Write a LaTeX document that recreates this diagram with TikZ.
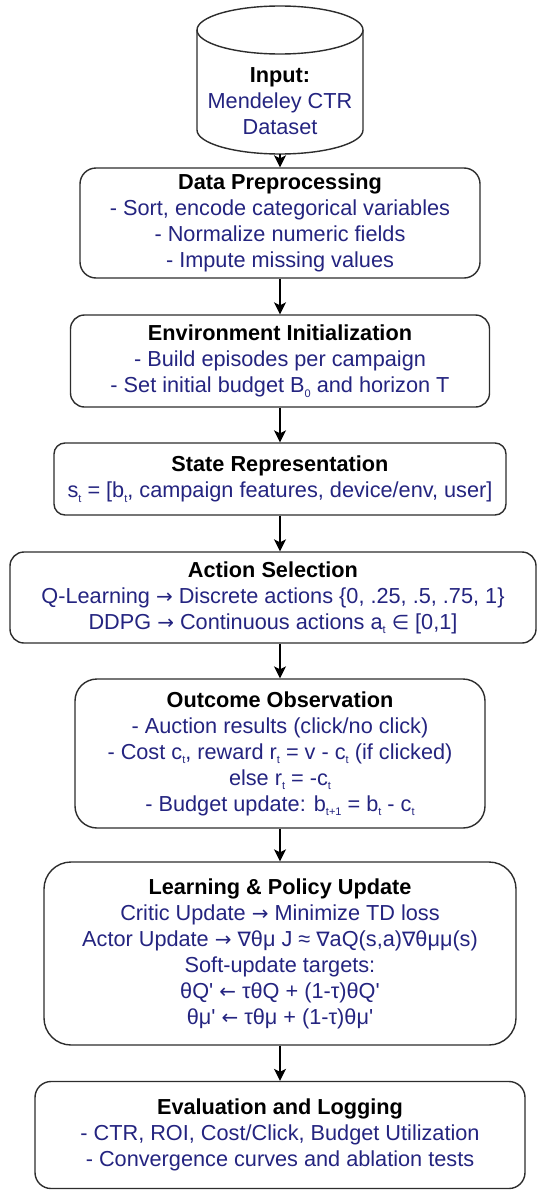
\documentclass[tikz,border=0pt]{standalone}
\usepackage{fontspec}
\setmainfont{Liberation Sans}[Ligatures=TeXOff]
\newfontfamily\symf{DejaVu Sans}[Scale=0.92]
\usetikzlibrary{arrows.meta}
\definecolor{navy}{RGB}{36,36,128}
\definecolor{edge}{RGB}{45,45,45}
% small lowered index used in the formulas
\newcommand\sbs[1]{\raisebox{-0.4ex}{\fontsize{11}{11}\selectfont #1}}
\newcommand\ttl[1]{{\color{black}\bfseries #1}}
\newcommand\ra{{\symf →}}
\newcommand\la{{\symf ←}}
\begin{document}
\begin{tikzpicture}[x=1pt,y=-1pt,
  box/.style={draw=edge, line width=1.4pt, rounded corners=#1, fill=white,
    align=center, inner sep=0pt, text=navy,
    font=\fontsize{21.7}{26}\selectfont},
  box/.default=14pt,
  arr/.style={draw=black, line width=1.4pt,
    -{Stealth[length=12pt,width=12pt,inset=3pt]}}]
\useasboundingbox (0,0) rectangle (538,1191);

% data source drum
\draw[edge, line width=1.4pt, fill=white]
  (197,30) -- (197,130) arc[start angle=180, end angle=360, x radius=83pt, y radius=24pt]
  -- (363,30);
\draw[edge, line width=1.4pt, fill=white] (280,30) ellipse[x radius=83pt, y radius=24pt];
\node[align=center, text=navy, font=\fontsize{21.7}{26}\selectfont] (input) at (280,101)
  {\ttl{Input:}\\Mendeley CTR\\Dataset};
\coordinate (inbot) at (280,154);

\node[box=16pt, minimum width=400pt, minimum height=110pt] (prep) at (280,223)
  {\ttl{Data Preprocessing}\\- Sort, encode categorical variables\\- Normalize numeric fields\\- Impute missing values};

\node[box=14pt, minimum width=419pt, minimum height=92pt] (env) at (280,361)
  {\ttl{Environment Initialization}\\- Build episodes per campaign\\- Set initial budget B\sbs{0} and horizon T};

\node[box=11pt, minimum width=452pt, minimum height=72pt] (state) at (280,479)
  {\ttl{State Representation}\\s\sbs{t} = [b\sbs{t}, campaign features, device/env, user]};

\node[box=14pt, minimum width=526pt, minimum height=91pt] (act) at (273,597.5)
  {\ttl{Action Selection}\\Q-Learning \ra\ Discrete actions \{0, .25, .5, .75, 1\}\\DDPG \ra\ Continuous actions a\sbs{t} {\symf ∈} [0,1]};

\node[box=22pt, minimum width=410pt, minimum height=149pt] (obs) at (280,753.5)
  {\ttl{Outcome Observation}\\- Auction results (click/no click)\\- Cost c\sbs{t}, reward r\sbs{t} = v - c\sbs{t} (if clicked)\\else r\sbs{t} = -c\sbs{t}\\- Budget update: b\sbs{t+1} = b\sbs{t} - c\sbs{t}};

\node[box=27pt, minimum width=472pt, minimum height=183pt] (learn) at (280,953.5)
  {\ttl{Learning \& Policy Update}\\Critic Update \ra\ Minimize TD loss\\Actor Update \ra\ {\symf ∇}θμ J ≈ {\symf ∇}aQ(s,a){\symf ∇}θμμ(s)\\Soft-update targets:\\θQ' \la\ τθQ + (1-τ)θQ'\\θμ' \la\ τθμ + (1-τ)θμ'};

\node[box=16pt, minimum width=490pt, minimum height=107pt] (eval) at (280,1135)
  {\ttl{Evaluation and Logging}\\- CTR, ROI, Cost/Click, Budget Utilization\\- Convergence curves and ablation tests};

% pipeline connectors
\draw[arr] (inbot) -- (prep.north);
\draw[arr] (prep.south) -- (env.north);
\draw[arr] (env.south) -- (state.north);
\draw[arr] (state.south) -- (state.south |- act.north);
\draw[arr] (act.south -| obs.north) -- (obs.north);
\draw[arr] (obs.south) -- (learn.north);
\draw[arr] (learn.south) -- (eval.north);
\end{tikzpicture}
\end{document}
